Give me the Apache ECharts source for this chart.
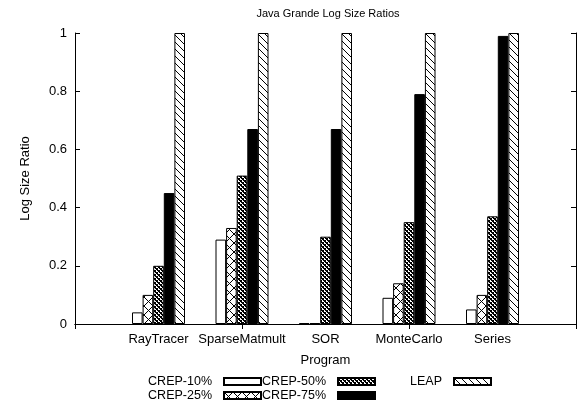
<!DOCTYPE html>
<html><head><meta charset="utf-8">
<script src="https://cdn.jsdelivr.net/npm/echarts@6/dist/echarts.min.js"></script>
<style>html,body{margin:0;padding:0;background:#fff}#c{width:585px;height:403px}</style>
</head><body><div id="c"></div>
<script>
const categories = ['', 'RayTracer', 'SparseMatmult', 'SOR', 'MonteCarlo', 'Series', ''];
const crep10 = [null, 0.04, 0.29, 0.003, 0.09, 0.05, null];
const crep25 = [null, 0.10, 0.33, 0.003, 0.14, 0.10, null];
const crep50 = [null, 0.20, 0.51, 0.30, 0.35, 0.37, null];
const crep75 = [null, 0.45, 0.67, 0.67, 0.79, 0.99, null];
const leap   = [null, 1.0, 1.0, 1.0, 1.0, 1.0, null];
const seriesNames = ['CREP-10%', 'CREP-25%', 'CREP-50%', 'CREP-75%', 'LEAP'];
const yMin = 0, yMax = 1, yStep = 0.2;

const FONT = 'Liberation Sans, Arial, Helvetica, sans-serif';

function tile(w, h, draw) {
  const c = document.createElement('canvas');
  c.width = w; c.height = h;
  const g = c.getContext('2d');
  g.fillStyle = '#fff'; g.fillRect(0, 0, w, h);
  g.fillStyle = '#000';
  draw(g, w, h);
  return { image: c, repeat: 'repeat' };
}
const patWhite = '#ffffff';
const patCross = tile(9, 9, (g, w) => { for (let i = 0; i < w; i++) { g.fillRect(i, i, 1, 1); g.fillRect(w - 1 - i, i, 1, 1); } });
const patCheck = tile(4, 4, (g) => { g.fillRect(0, 0, 2, 2); g.fillRect(2, 2, 2, 2); g.fillRect(1,2,1,1); g.fillRect(3,0,1,1); });
const patBlack = '#000000';
const patDiag = tile(7, 7, (g, w) => { for (let i = 0; i < w; i++) g.fillRect(i, i, 1, 1); });
const fills = [patWhite, patCross, patCheck, patBlack, patDiag];
const values = [crep10, crep25, crep50, crep75, leap];

const axisLine = { show: true, lineStyle: { color: '#000', width: 1 } };
const tick = { show: true, inside: true, length: 5, lineStyle: { color: '#000', width: 1 } };
const txt = { color: '#000', fontSize: 13, fontFamily: FONT };

function lg(name, right, top) {
  return {
    data: [name], right: right, top: top, orient: 'horizontal', align: 'right',
    itemWidth: 37, itemHeight: 7, padding: 0, icon: 'rect', selectedMode: false,
    textStyle: { color: '#000', fontSize: 12.5, fontFamily: FONT, padding: [0, 7, 0, 0] }
  };
}

const chart = echarts.init(document.getElementById('c'), null, { renderer: 'canvas' });
chart.setOption({
  animation: false,
  backgroundColor: '#fff',
  grid: { left: 75, right: 9, top: 33, bottom: 79, containLabel: false },
  graphic: [{
    type: 'text', x: 328, y: 14,
    style: { text: 'Java Grande Log Size Ratios', fill: '#000', fontSize: 11, fontFamily: FONT, align: 'center', verticalAlign: 'middle' }
  }],
  legend: [
    lg('CREP-10%', 323, 375), lg('CREP-25%', 323, 389),
    lg('CREP-50%', 209, 375), lg('CREP-75%', 209, 389),
    lg('LEAP', 93, 375)
  ],
  xAxis: [
    { type: 'category', data: categories, boundaryGap: false, position: 'bottom',
      axisLine: axisLine, axisTick: tick, axisLabel: Object.assign({ margin: 8.5, interval: 0 }, txt),
      name: 'Program', nameLocation: 'middle', nameGap: 29.5, nameTextStyle: txt },
    { type: 'category', data: categories, boundaryGap: false, position: 'top',
      axisLine: axisLine, axisTick: tick, axisLabel: { show: false } }
  ],
  yAxis: [
    { type: 'value', min: yMin, max: yMax, interval: yStep, position: 'left',
      axisLine: axisLine, axisTick: tick, splitLine: { show: false },
      axisLabel: Object.assign({ margin: 8 }, txt),
      name: 'Log Size Ratio', nameLocation: 'middle', nameGap: 43, nameTextStyle: txt },
    { type: 'value', min: yMin, max: yMax, interval: yStep, position: 'right',
      axisLine: axisLine, axisTick: tick, splitLine: { show: false }, axisLabel: { show: false } }
  ],
  series: seriesNames.map((n, i) => ({
    name: n, type: 'bar', data: values[i], barWidth: 10.6, barGap: '0%',
    itemStyle: { color: fills[i], borderColor: '#000', borderWidth: 1 },
    emphasis: { disabled: true }
  }))
});
</script>
</body></html>
